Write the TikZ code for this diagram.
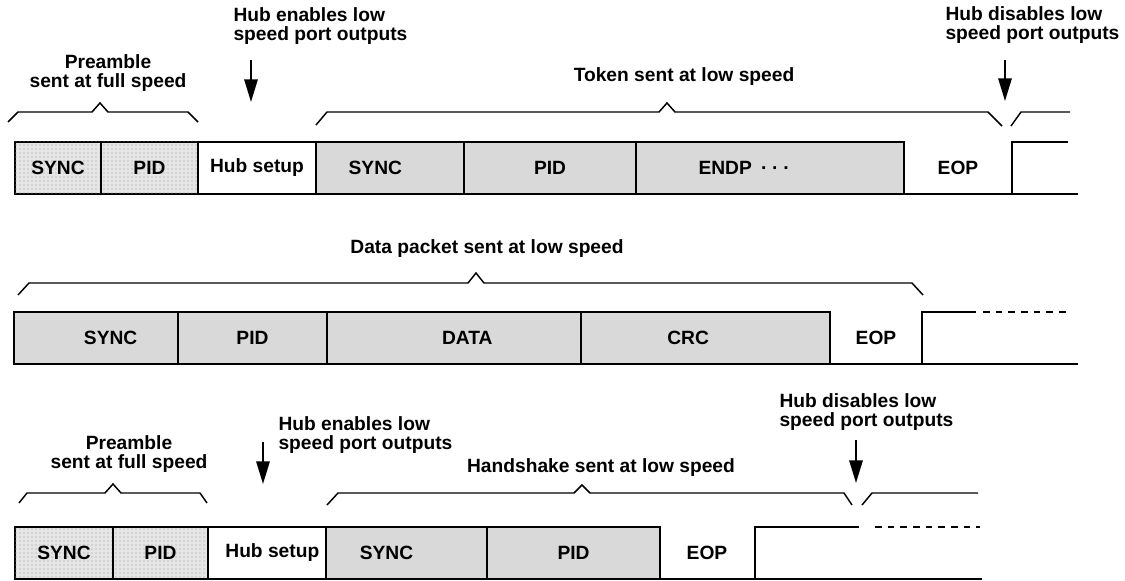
\documentclass[tikz,border=0pt]{standalone}
\usepackage{fontspec}
\setmainfont{Liberation Sans}
\usetikzlibrary{arrows.meta,patterns}
\tikzset{every picture/.style={line width=0.75pt}}
\tikzset{
  field/.style={draw, line width=1.4pt, anchor=north west, inner sep=0pt, outer sep=0pt, minimum height=39pt},
  fieldw/.style={minimum width=#1*0.75pt},
  prefield/.style={field, fill=black!10, postaction={pattern=dots, pattern color=black!40}},
  lowfield/.style={field, fill=black!15},
  hubfield/.style={field, fill=white},
  rim/.style={line width=1.4pt},
  brace/.style={line width=1.1pt},
  hint/.style={line width=1.5pt, -{Triangle[length=17pt,width=10pt]}},
  caption/.style={inner sep=0pt, align=center},
  note/.style={inner sep=0pt, align=left, anchor=west}
}

\begin{document}
\begin{tikzpicture}[x=0.75pt,y=-0.75pt,font=\bfseries\fontsize{14.4}{14}\selectfont]
    \useasboundingbox (0,0) rectangle (1125,581);

    % Token packet: preamble, hub setup, token fields
    \node[prefield, fieldw=86] (pSyncA) at (15,142) {SYNC};
    \node[prefield, fieldw=97] (pPidA) at (pSyncA.north east) {PID};
    \node[hubfield, fieldw=118] (hubA) at (pPidA.north east) {Hub setup};
    \node[lowfield, fieldw=148, label={[xshift=-11pt]center:SYNC}] (tSync) at (hubA.north east) {};
    \node[lowfield, fieldw=172] (tPid) at (tSync.north east) {PID};
    \node[lowfield, fieldw=268] (tEndp) at (tPid.north east) {};
    \node[note] (tEndpTxt) at (698,168) {ENDP\hspace{7pt}·\hspace{3.5pt}·\hspace{3.5pt}·};
    \node (tEop) at (958,168) {EOP};
    \draw[rim] (tEndp.south east) -- (1078,194);
    \draw[rim] (1012,194) -- (1012,142) -- (1068,142);

    % Token packet: braces and captions
    \draw[brace] (8,122) -- (18,112) -- (92,112) -- (100,103) -- (108,112) -- (188,112) -- (198,122);
    \node[caption] (preA) at (108,73) {Preamble\\sent at full speed};
    \draw[brace] (316,125) -- (327,112) -- (659,112) -- (667,103) -- (675,112) -- (988,112) -- (1002,126);
    \draw[brace] (1011,126) -- (1021,112) -- (1070,112);
    \node[caption] (tokCap) at (684,77) {Token sent at low speed};

    % Token packet: hub arrows
    \node[note] (enA) at (233,26) {Hub enables low\\speed port outputs};
    \coordinate (enATop) at (251,60);
    \coordinate (enABot) at (251,102);
    \draw[hint] (enATop) -- (enABot);
    \node[note] (disA) at (945,25) {Hub disables low\\speed port outputs};
    \coordinate (disATop) at (1005,60);
    \coordinate (disABot) at (1005,101);
    \draw[hint] (disATop) -- (disABot);

    % Data packet
    \node[lowfield, fieldw=164, label={[xshift=11pt]center:SYNC}] (dSync) at (14,312) {};
    \node[lowfield, fieldw=149] (dPid) at (dSync.north east) {PID};
    \node[lowfield, fieldw=254, label={[xshift=10pt]center:DATA}] (dData) at (dPid.north east) {};
    \node[lowfield, fieldw=249, label={[xshift=-13pt]center:CRC}] (dCrc) at (dData.north east) {};
    \node (dEop) at (876,338) {EOP};
    \draw[rim] (dCrc.south east) -- (1078,364);
    \draw[rim] (922,364) -- (922,312) -- (976,312);
    \draw[line width=1pt, dash pattern=on 5pt off 4.5pt] (983,312) -- (1068,312);
    \draw[brace] (18,295) -- (29,283) -- (468,283) -- (476,273) -- (484,283) -- (912,283) -- (923,295);
    \node[caption] (dataCap) at (487,249) {Data packet sent at low speed};

    % Handshake packet: preamble, hub setup, handshake fields
    \node[prefield, fieldw=98] (pSyncB) at (15,527) {SYNC};
    \node[prefield, fieldw=95] (pPidB) at (pSyncB.north east) {PID};
    \node[hubfield, fieldw=118, label={[xshift=4pt]center:Hub setup}] (hubB) at (pPidB.north east) {};
    \node[lowfield, fieldw=161, label={[xshift=-15pt]center:SYNC}] (hSync) at (hubB.north east) {};
    \node[lowfield, fieldw=173] (hPid) at (hSync.north east) {PID};
    \node (hEop) at (707,553) {EOP};
    \draw[rim] (hPid.south east) -- (982,579);
    \draw[rim] (755,579) -- (755,527) -- (859,527);
    \draw[line width=1pt, dash pattern=on 5pt off 4.5pt] (875,527) -- (980,527);

    % Handshake packet: braces and captions
    \draw[brace] (19,503) -- (27,493) -- (105,493) -- (113,484) -- (121,493) -- (200,493) -- (207,503);
    \node[caption] (preB) at (129,454) {Preamble\\sent at full speed};
    \draw[brace] (327,505) -- (338,493) -- (574,493) -- (582,485) -- (590,493) -- (844,493) -- (852,505);
    \draw[brace] (862,505) -- (872,493) -- (978,493);
    \node[caption] (hsCap) at (601,468) {Handshake sent at low speed};

    % Handshake packet: hub arrows
    \node[note] (enB) at (278,435) {Hub enables low\\speed port outputs};
    \coordinate (enBTop) at (263,442);
    \coordinate (enBBot) at (263,484);
    \draw[hint] (enBTop) -- (enBBot);
    \node[note] (disB) at (779,412) {Hub disables low\\speed port outputs};
    \coordinate (disBTop) at (856,440);
    \coordinate (disBBot) at (856,483);
    \draw[hint] (disBTop) -- (disBBot);
\end{tikzpicture}
\end{document}
